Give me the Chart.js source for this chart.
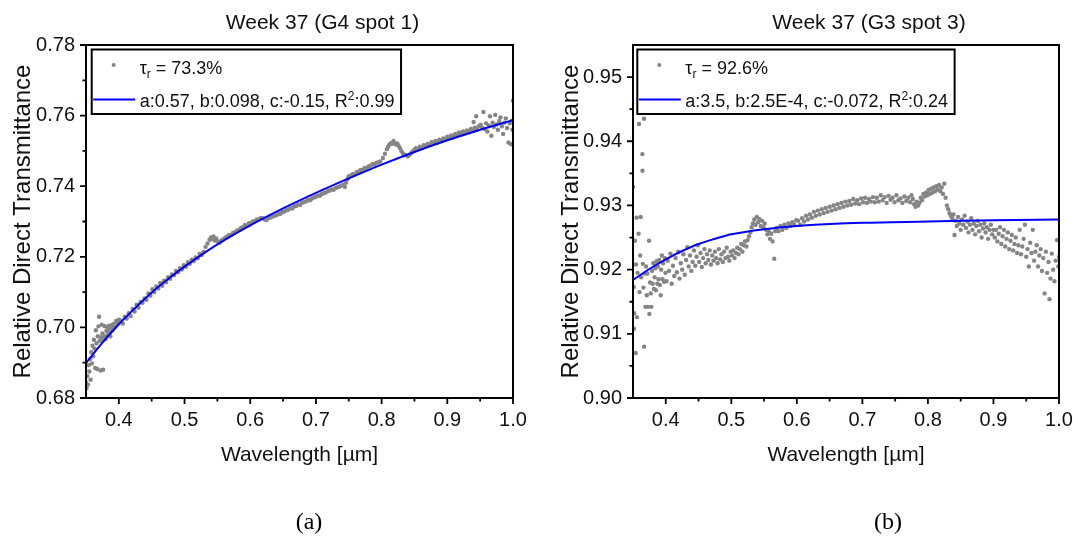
<!DOCTYPE html>
<html>
<head>
<meta charset="utf-8">
<script src="https://cdn.jsdelivr.net/npm/chart.js@4.4.1/dist/chart.umd.min.js"></script>
<style>
html,body{margin:0;padding:0;background:#fff;}
#wrap{position:relative;width:1073px;height:537px;overflow:hidden;background:#fff;}
.pane{position:absolute;top:0;height:537px;}
.cap{position:absolute;top:509px;font-family:"Liberation Serif","Times New Roman",serif;font-size:24px;line-height:24px;color:#000;transform:translateX(-50%);white-space:nowrap;}
</style>
</head>
<body>
<div id="wrap">
  <div class="pane" style="left:0;width:540px;"><canvas id="chartA" width="540" height="537"></canvas></div>
  <div class="pane" style="left:540px;width:533px;"><canvas id="chartB" width="533" height="537"></canvas></div>
  <div class="cap" style="left:309px;">(a)</div>
  <div class="cap" style="left:888px;">(b)</div>
</div>
<script>
// ---------------- DATA ----------------
const titleA = 'Week 37 (G4 spot 1)';
const titleB = 'Week 37 (G3 spot 3)';
const xTitle = 'Wavelength [\u00b5m]';
const yTitle = 'Relative Direct Transmittance';

const xTickVals = [0.4, 0.5, 0.6, 0.7, 0.8, 0.9, 1.0];
const xTickLabels = ['0.4', '0.5', '0.6', '0.7', '0.8', '0.9', '1.0'];
const xMinorVals = [0.45, 0.55, 0.65, 0.75, 0.85, 0.95];

const yTickValsA = [0.68, 0.70, 0.72, 0.74, 0.76, 0.78];
const yTickLabelsA = ['0.68', '0.70', '0.72', '0.74', '0.76', '0.78'];
const yMinorValsA = [0.69, 0.71, 0.73, 0.75, 0.77];

const yTickValsB = [0.90, 0.91, 0.92, 0.93, 0.94, 0.95];
const yTickLabelsB = ['0.90', '0.91', '0.92', '0.93', '0.94', '0.95'];
const yMinorValsB = [0.905, 0.915, 0.925, 0.935, 0.945];

// legend text segments: [text, kind] kind: n normal, sub subscript, sup superscript
const legendPointsA = [['\u03c4','n'],['r','sub'],[' = 73.3%','n']];
const legendFitA = [['a:0.57, b:0.098, c:-0.15, R','n'],['2','sup'],[':0.99','n']];
const legendPointsB = [['\u03c4','n'],['r','sub'],[' = 92.6%','n']];
const legendFitB = [['a:3.5, b:2.5E-4, c:-0.072, R','n'],['2','sup'],[':0.24','n']];

// fitted curves [wavelength, transmittance]
const fitA = [[0.35,0.6899],[0.375,0.6957],[0.40,0.7009],[0.425,0.7055],[0.45,0.7099],[0.475,0.7137],
  [0.50,0.7172],[0.55,0.7235],[0.60,0.7289],[0.65,0.7337],[0.70,0.7381],[0.75,0.7422],[0.80,0.7461],
  [0.85,0.7497],[0.90,0.7530],[0.95,0.7560],[1.00,0.7587]];
const fitB = [[0.35,0.9184],[0.375,0.9201],[0.40,0.9216],[0.425,0.9229],[0.45,0.9240],[0.475,0.9248],
  [0.50,0.9255],[0.55,0.9263],[0.60,0.9268],[0.65,0.9271],[0.70,0.9273],[0.80,0.9275],[0.90,0.9277],[1.00,0.9278]];

// measured points [wavelength, transmittance]
const pointsA = [
[0.350,0.6845],[0.351,0.6828],[0.352,0.6862],[0.353,0.6838],[0.354,0.6893],[0.355,0.6875],[0.356,0.6910],[0.357,0.6852],
[0.358,0.6930],[0.359,0.6898],[0.360,0.6948],[0.361,0.6918],[0.362,0.6965],[0.363,0.6940],[0.364,0.6885],[0.365,0.6992],
[0.366,0.6955],[0.367,0.6882],[0.368,0.6975],[0.369,0.7003],[0.370,0.7030],[0.371,0.6962],[0.372,0.6878],[0.373,0.6972],
[0.374,0.7008],[0.375,0.6983],[0.376,0.6880],[0.377,0.6965],[0.378,0.7004],[0.379,0.6975],[0.380,0.6968],[0.381,0.6990],
[0.382,0.7001],[0.383,0.6978],[0.384,0.6995],[0.385,0.7005],[0.386,0.6985],[0.387,0.6975],[0.388,0.6998],[0.389,0.7006],
[0.390,0.6992],[0.392,0.7010],[0.394,0.7002],[0.396,0.7018],[0.398,0.7012],[0.400,0.7022],
[0.403,0.7020],[0.406,0.7011],[0.409,0.7030],[0.412,0.7025],[0.415,0.7040],[0.418,0.7032],[0.421,0.7052],[0.424,0.7045],
[0.427,0.7064],[0.430,0.7056],[0.433,0.7072],[0.436,0.7070],[0.439,0.7082],[0.442,0.7078],[0.445,0.7096],[0.448,0.7090],
[0.451,0.7108],[0.454,0.7100],[0.457,0.7116],[0.460,0.7110],[0.463,0.7126],[0.466,0.7118],[0.469,0.7132],[0.472,0.7128],
[0.475,0.7142],[0.478,0.7138],[0.481,0.7150],[0.484,0.7148],[0.487,0.7160],[0.490,0.7156],[0.493,0.7168],[0.496,0.7164],
[0.499,0.7176],[0.502,0.7172],[0.505,0.7185],[0.508,0.7180],[0.511,0.7192],[0.514,0.7188],[0.517,0.7198],[0.520,0.7196],
[0.523,0.7208],[0.526,0.7205],[0.529,0.7214],
[0.532,0.7228],[0.535,0.7238],[0.538,0.7248],[0.540,0.7255],[0.542,0.7250],[0.544,0.7258],[0.546,0.7246],[0.548,0.7252],
[0.550,0.7244],[0.553,0.7240],[0.556,0.7246],[0.559,0.7250],
[0.562,0.7254],[0.565,0.7258],[0.568,0.7262],[0.571,0.7262],[0.574,0.7268],[0.577,0.7270],[0.580,0.7275],[0.583,0.7276],
[0.586,0.7282],[0.589,0.7284],[0.592,0.7290],[0.595,0.7288],[0.598,0.7295],[0.601,0.7296],[0.604,0.7300],[0.607,0.7301],
[0.610,0.7306],[0.613,0.7305],[0.616,0.7310],[0.619,0.7309],
[0.622,0.7306],[0.625,0.7304],[0.628,0.7310],[0.631,0.7311],[0.634,0.7314],[0.637,0.7316],[0.640,0.7318],[0.643,0.7322],
[0.646,0.7322],[0.649,0.7327],[0.652,0.7328],[0.655,0.7332],[0.658,0.7333],[0.661,0.7338],[0.664,0.7337],[0.667,0.7343],
[0.670,0.7344],[0.673,0.7348],[0.676,0.7347],[0.679,0.7353],[0.682,0.7355],[0.685,0.7357],[0.688,0.7361],[0.691,0.7360],
[0.694,0.7365],[0.697,0.7368],[0.700,0.7370],[0.703,0.7374],[0.706,0.7373],[0.709,0.7378],[0.712,0.7380],[0.715,0.7382],
[0.718,0.7386],[0.721,0.7388],[0.724,0.7391],[0.727,0.7390],[0.730,0.7395],[0.733,0.7397],[0.736,0.7399],[0.739,0.7402],
[0.742,0.7404],[0.744,0.7398],[0.746,0.7410],[0.748,0.7420],[0.750,0.7428],
[0.753,0.7430],[0.756,0.7434],[0.759,0.7433],[0.762,0.7440],[0.765,0.7441],[0.768,0.7446],[0.771,0.7446],[0.774,0.7452],
[0.777,0.7452],[0.780,0.7456],[0.783,0.7458],[0.786,0.7462],[0.789,0.7461],[0.792,0.7466],[0.795,0.7468],[0.798,0.7470],
[0.802,0.7480],[0.805,0.7492],[0.808,0.7505],[0.810,0.7512],[0.812,0.7518],[0.814,0.7522],[0.816,0.7520],[0.818,0.7528],
[0.820,0.7522],[0.822,0.7518],[0.824,0.7521],[0.826,0.7514],[0.828,0.7508],[0.830,0.7500],[0.832,0.7494],[0.834,0.7490],
[0.837,0.7488],[0.840,0.7485],[0.843,0.7490],
[0.846,0.7496],[0.849,0.7502],[0.852,0.7508],[0.855,0.7505],[0.858,0.7512],[0.861,0.7508],[0.864,0.7516],[0.867,0.7514],
[0.870,0.7520],[0.873,0.7517],[0.876,0.7525],[0.879,0.7522],[0.882,0.7528],[0.885,0.7524],[0.888,0.7532],[0.891,0.7528],
[0.894,0.7535],[0.897,0.7532],[0.900,0.7540],[0.903,0.7536],[0.906,0.7544],[0.909,0.7538],[0.912,0.7548],[0.915,0.7544],
[0.918,0.7552],[0.921,0.7546],[0.924,0.7555],[0.927,0.7550],[0.930,0.7558],[0.933,0.7552],[0.936,0.7562],[0.939,0.7556],
[0.940,0.7582],[0.942,0.7566],[0.944,0.7598],[0.945,0.7560],[0.948,0.7570],
[0.951,0.7574],[0.953,0.7566],[0.955,0.7610],[0.957,0.7562],[0.959,0.7578],[0.961,0.7555],[0.963,0.7572],[0.965,0.7598],
[0.967,0.7543],[0.969,0.7580],[0.971,0.7568],[0.973,0.7602],[0.975,0.7575],[0.977,0.7560],[0.979,0.7585],[0.981,0.7595],
[0.983,0.7570],[0.985,0.7548],[0.987,0.7580],[0.989,0.7592],[0.991,0.7565],[0.993,0.7524],[0.995,0.7578],[0.997,0.7519],
[0.998,0.7585],[0.999,0.7560],[1.000,0.7642]
];

const pointsB = [
[0.3500,0.9329],[0.3510,0.9173],[0.3515,0.9108],[0.3518,0.9132],[0.3530,0.9245],[0.3541,0.9070],[0.3545,0.9208],[0.3555,0.9281],
[0.3560,0.9126],[0.3570,0.9195],[0.3585,0.9256],[0.3592,0.9427],[0.3600,0.9165],[0.3610,0.9222],[0.3617,0.9282],[0.3625,0.9188],
[0.3643,0.9380],[0.3645,0.9354],[0.3650,0.9209],[0.3660,0.9172],[0.3668,0.9435],[0.3670,0.9080],[0.3680,0.9194],[0.3690,0.9142],
[0.3700,0.9205],[0.3710,0.9160],[0.3719,0.9194],[0.3730,0.9142],[0.3745,0.9245],[0.3750,0.9131],[0.3760,0.9180],[0.3770,0.9163],
[0.3780,0.9142],[0.3790,0.9198],[0.3800,0.9178],[0.3810,0.9210],[0.3820,0.9170],[0.3830,0.9188],[0.3840,0.9202],[0.3850,0.9168],
[0.3860,0.9213],[0.3872,0.9178],[0.3880,0.9205],[0.3890,0.9185],[0.3900,0.9215],[0.3910,0.9176],[0.3923,0.9160],[0.3930,0.9200],
[0.3940,0.9222],[0.3950,0.9185],[0.3960,0.9210],[0.3974,0.9181],[0.3985,0.9218],[0.3995,0.9195],
[0.401,0.9182],[0.403,0.9214],[0.405,0.9198],[0.407,0.9225],[0.409,0.9178],[0.411,0.9206],[0.413,0.9190],[0.415,0.9218],
[0.417,0.9196],[0.419,0.9228],[0.421,0.9186],[0.423,0.9210],[0.425,0.9200],[0.427,0.9224],[0.429,0.9192],[0.431,0.9215],
[0.433,0.9235],[0.435,0.9205],[0.437,0.9222],[0.439,0.9198],[0.441,0.9212],[0.443,0.9230],[0.445,0.9206],[0.447,0.9220],
[0.449,0.9238],[0.451,0.9212],[0.453,0.9226],[0.455,0.9204],[0.457,0.9218],[0.459,0.9232],[0.461,0.9210],[0.463,0.9224],
[0.465,0.9215],[0.467,0.9230],[0.469,0.9208],[0.471,0.9222],[0.473,0.9214],[0.475,0.9228],[0.477,0.9218],[0.479,0.9210],
[0.481,0.9232],[0.483,0.9216],[0.485,0.9224],[0.487,0.9212],[0.489,0.9228],[0.491,0.9218],[0.493,0.9234],[0.495,0.9220],
[0.497,0.9214],[0.499,0.9228],[0.501,0.9222],[0.503,0.9230],[0.505,0.9218],[0.507,0.9226],[0.509,0.9234],[0.511,0.9224],
[0.513,0.9232],[0.515,0.9240],[0.517,0.9228],[0.519,0.9238],[0.521,0.9244],[0.523,0.9236],[0.525,0.9246],[0.527,0.9252],
[0.529,0.9258],
[0.531,0.9266],[0.533,0.9272],[0.535,0.9278],[0.537,0.9270],[0.539,0.9282],[0.541,0.9274],[0.543,0.9279],[0.545,0.9268],
[0.547,0.9276],[0.549,0.9266],[0.551,0.9272],[0.553,0.9262],[0.555,0.9255],[0.557,0.9260],[0.559,0.9248],[0.561,0.9256],
[0.563,0.9244],[0.5655,0.9217],[0.567,0.9260],
[0.569,0.9265],[0.572,0.9260],[0.575,0.9268],[0.578,0.9262],[0.581,0.9270],[0.584,0.9265],[0.587,0.9272],[0.590,0.9268],
[0.593,0.9274],[0.596,0.9270],[0.599,0.9277],
[0.602,0.9276],[0.605,0.9270],[0.608,0.9280],[0.611,0.9275],[0.614,0.9284],[0.617,0.9278],[0.620,0.9286],[0.623,0.9281],
[0.626,0.9290],[0.629,0.9284],[0.632,0.9292],[0.635,0.9286],[0.638,0.9294],[0.641,0.9288],[0.644,0.9296],[0.647,0.9290],
[0.650,0.9298],[0.653,0.9292],[0.656,0.9300],[0.659,0.9294],[0.662,0.9302],[0.665,0.9296],[0.668,0.9304],[0.671,0.9298],
[0.674,0.9306],[0.677,0.9300],[0.680,0.9307],[0.683,0.9301],[0.686,0.9310],[0.689,0.9303],[0.692,0.9308],[0.695,0.9302],
[0.698,0.9311],[0.701,0.9305],[0.704,0.9312],[0.707,0.9304],[0.710,0.9310],[0.713,0.9306],[0.716,0.9313],[0.719,0.9305],
[0.722,0.9312],[0.725,0.9306],[0.728,0.9316],[0.731,0.9308],[0.734,0.9313],[0.737,0.9304],[0.740,0.9315],[0.743,0.9309],
[0.746,0.9312],[0.749,0.9305],[0.752,0.9316],[0.755,0.9308],[0.758,0.9311],[0.761,0.9304],[0.764,0.9314],[0.767,0.9307],
[0.770,0.9312],[0.773,0.9305],[0.775,0.9316],
[0.777,0.9310],[0.779,0.9302],[0.781,0.9298],[0.783,0.9306],[0.785,0.9300],[0.787,0.9304],[0.789,0.9312],[0.791,0.9308],
[0.793,0.9318],[0.795,0.9314],[0.797,0.9320],[0.799,0.9316],[0.801,0.9324],[0.803,0.9318],[0.805,0.9326],[0.807,0.9320],
[0.809,0.9328],[0.811,0.9322],[0.813,0.9330],[0.815,0.9325],[0.817,0.9332],[0.819,0.9322],[0.821,0.9328],[0.823,0.9318],
[0.825,0.9334],[0.827,0.9312],[0.829,0.9300],[0.831,0.9294],[0.833,0.9288],[0.835,0.9284],[0.837,0.9280],[0.839,0.9286],
[0.8406,0.9254],
[0.842,0.9276],[0.844,0.9268],[0.846,0.9282],[0.848,0.9272],[0.850,0.9262],[0.852,0.9278],[0.854,0.9270],[0.856,0.9284],
[0.858,0.9265],[0.860,0.9275],[0.862,0.9258],[0.864,0.9270],[0.866,0.9280],[0.868,0.9262],[0.870,0.9272],[0.872,0.9255],
[0.874,0.9268],[0.876,0.9276],[0.878,0.9260],[0.880,0.9270],[0.882,0.9250],[0.884,0.9264],[0.886,0.9272],[0.888,0.9258],
[0.890,0.9266],[0.892,0.9248],[0.894,0.9262],[0.896,0.9270],[0.898,0.9255],[0.900,0.9262],
[0.902,0.9250],[0.904,0.9262],[0.906,0.9244],[0.908,0.9256],[0.910,0.9266],[0.912,0.9240],[0.914,0.9252],[0.916,0.9262],
[0.918,0.9236],[0.920,0.9248],[0.922,0.9258],[0.924,0.9232],[0.926,0.9245],[0.928,0.9254],[0.930,0.9230],[0.932,0.9240],
[0.934,0.9250],[0.936,0.9226],[0.938,0.9238],[0.940,0.9262],[0.942,0.9224],[0.944,0.9236],[0.946,0.9248],[0.948,0.9270],
[0.950,0.9220],[0.952,0.9232],[0.954,0.9205],[0.956,0.9242],[0.958,0.9226],[0.960,0.9262],[0.962,0.9214],[0.964,0.9228],
[0.966,0.9238],[0.968,0.9205],[0.970,0.9222],[0.972,0.9232],[0.974,0.9198],[0.976,0.9218],[0.978,0.9163],[0.980,0.9228],
[0.982,0.9195],[0.984,0.9212],[0.9855,0.9154],[0.987,0.9186],[0.989,0.9225],[0.991,0.9200],[0.993,0.9182],[0.995,0.9214],
[0.997,0.9246],[0.999,0.9205],[1.000,0.9220]
];

// ---------------- STYLE ----------------
const FONT = '"Liberation Sans", Arial, Helvetica, sans-serif';
const TXT = '#111';
const BLUE = '#0000ff';
const GREY = '#858585';

function drawSegs(ctx, segs, x, base) {
  segs.forEach(([t, k]) => {
    let y = base;
    if (k === 'sub') { ctx.font = '12px ' + FONT; y = base + 4; }
    else if (k === 'sup') { ctx.font = '12px ' + FONT; y = base - 7; }
    else { ctx.font = '18px ' + FONT; }
    ctx.fillText(t, x, y);
    x += ctx.measureText(t).width;
  });
  return x;
}
function segsWidth(ctx, segs) {
  let w = 0;
  segs.forEach(([t, k]) => {
    ctx.font = (k === 'n' ? '18px ' : '12px ') + FONT;
    w += ctx.measureText(t).width;
  });
  return w;
}

function figurePlugin(d) {
  return {
    id: 'figure',
    afterDraw(chart) {
      const ctx = chart.ctx, ca = chart.chartArea;
      const xs = chart.scales.x, ys = chart.scales.y;
      ctx.save();
      // frame
      ctx.strokeStyle = '#000';
      ctx.lineWidth = 2;
      ctx.strokeRect(ca.left, ca.top, ca.right - ca.left, ca.bottom - ca.top);
      // ticks
      ctx.lineWidth = 1.8;
      ctx.beginPath();
      xTickVals.forEach(v => { const p = xs.getPixelForValue(v); ctx.moveTo(p, ca.bottom); ctx.lineTo(p, ca.bottom + 6); });
      xMinorVals.forEach(v => { const p = xs.getPixelForValue(v); ctx.moveTo(p, ca.bottom); ctx.lineTo(p, ca.bottom + 3.5); });
      d.yTicks.forEach(v => { const p = ys.getPixelForValue(v); ctx.moveTo(ca.left, p); ctx.lineTo(ca.left - 6, p); });
      d.yMinor.forEach(v => { const p = ys.getPixelForValue(v); ctx.moveTo(ca.left, p); ctx.lineTo(ca.left - 3.5, p); });
      ctx.stroke();
      // title
      ctx.fillStyle = TXT;
      ctx.font = '21px ' + FONT;
      ctx.textAlign = 'center';
      ctx.textBaseline = 'alphabetic';
      ctx.fillText(d.title, (ca.left + ca.right) / 2 + 23, 29);
      // legend
      ctx.textAlign = 'left';
      const bx = ca.left + d.legendDx, by = ca.top + 4.5;
      const bw = 48 + segsWidth(ctx, d.legFit) + 6.5, bh = 64.5;
      ctx.fillStyle = '#fff';
      ctx.fillRect(bx, by, bw, bh);
      ctx.strokeStyle = '#000';
      ctx.lineWidth = 2;
      ctx.strokeRect(bx, by, bw, bh);
      ctx.fillStyle = GREY;
      ctx.beginPath(); ctx.arc(bx + 22, by + 15.5, 2, 0, Math.PI * 2); ctx.fill();
      ctx.strokeStyle = BLUE;
      ctx.lineWidth = 2;
      ctx.beginPath(); ctx.moveTo(bx + 1.5, by + 50); ctx.lineTo(bx + 43.5, by + 50); ctx.stroke();
      ctx.fillStyle = TXT;
      drawSegs(ctx, d.legPts, bx + 48, by + 24);
      drawSegs(ctx, d.legFit, bx + 48, by + 57.5);
      ctx.restore();
    }
  };
}

function build(id, d) {
  const labelOf = segs => segs.map(s => s[0]).join('');
  return new Chart(document.getElementById(id), {
    type: 'scatter',
    data: {
      datasets: [
        { label: labelOf(d.legFit), data: d.fit.map(p => ({ x: p[0], y: p[1] })), showLine: true,
          borderColor: BLUE, borderWidth: 2, pointRadius: 0, cubicInterpolationMode: 'monotone', fill: false },
        { label: labelOf(d.legPts), data: d.points.map(p => ({ x: p[0], y: p[1] })), showLine: false,
          pointRadius: 2.2, pointBackgroundColor: GREY, pointBorderWidth: 0, pointBorderColor: GREY }
      ]
    },
    options: {
      responsive: false, animation: false, devicePixelRatio: 1, events: [],
      layout: { padding: { left: 0, right: d.padRight, top: 45, bottom: 0 } },
      plugins: { legend: { display: false }, tooltip: { enabled: false }, title: { display: false } },
      scales: {
        x: {
          type: 'linear', min: 0.35, max: 1.0,
          afterBuildTicks(s) { s.ticks = xTickVals.map(v => ({ value: v })); },
          afterFit(s) { s.height = 139; s.paddingLeft = 0; s.paddingRight = 0; },
          grid: { display: false, drawTicks: false }, border: { display: false },
          ticks: { padding: 10, color: TXT, font: { family: FONT, size: 20 }, maxRotation: 0, autoSkip: false,
                   callback: v => xTickLabels[xTickVals.indexOf(v)] },
          title: { display: true, text: xTitle, color: TXT, font: { family: FONT, size: 21 }, padding: { top: 0, bottom: 69 } }
        },
        y: {
          type: 'linear', min: d.ymin, max: d.ymax,
          afterBuildTicks(s) { s.ticks = d.yTicks.map(v => ({ value: v })); },
          afterFit(s) { s.width = d.yWidth; s.paddingTop = 0; s.paddingBottom = 0; },
          grid: { display: false, drawTicks: false }, border: { display: false },
          ticks: { padding: 11, color: TXT, font: { family: FONT, size: 20 }, autoSkip: false,
                   callback: v => d.yLabels[d.yTicks.indexOf(v)] },
          title: { display: true, text: yTitle, color: TXT, font: { family: FONT, size: 24 }, padding: { top: d.yTitlePad, bottom: 0 } }
        }
      }
    },
    plugins: [figurePlugin(d)]
  });
}

build('chartA', {
  title: titleA, fit: fitA, points: pointsA, ymin: 0.68, ymax: 0.78,
  yTicks: yTickValsA, yLabels: yTickLabelsA, yMinor: yMinorValsA,
  legPts: legendPointsA, legFit: legendFitA,
  yWidth: 86, padRight: 27, yTitlePad: 9, legendDx: 5.7
});
build('chartB', {
  title: titleB, fit: fitB, points: pointsB, ymin: 0.90, ymax: 0.955,
  yTicks: yTickValsB, yLabels: yTickLabelsB, yMinor: yMinorValsB,
  legPts: legendPointsB, legFit: legendFitB,
  yWidth: 93, padRight: 14, yTitlePad: 17, legendDx: 4.3
});
</script>
</body>
</html>
